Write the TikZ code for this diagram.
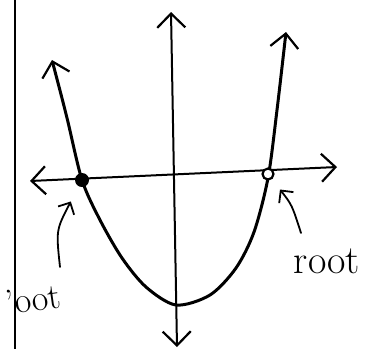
\documentclass[tikz,border=0pt]{standalone}
\usepackage{tikz}
\usetikzlibrary{arrows.meta, positioning}

\begin{document}
\begin{tikzpicture}[x=1pt, y=-1pt,
    barb/.style={{Straight Barb[length=14pt,width=28pt,line width=2.2pt]}-{Straight Barb[length=14pt,width=28pt,line width=2.2pt]}},
    axis/.style={line width=2pt, barb, line cap=round},
    curve/.style={line width=3pt, barb, line cap=round},
    pointer/.style={line width=1.8pt, -{Straight Barb[length=9pt,width=18pt,line width=1.8pt]}, line cap=round},
    lbl/.style={font=\fontsize{40}{40}\selectfont, inner sep=0pt}]
  \useasboundingbox (0,0) rectangle (366,349);
  % edge of the page
  \draw[line width=1.4pt] (15,0) -- (15,349);
  % axes
  \coordinate (xl) at (30,181);
  \coordinate (xr) at (337,167);
  \coordinate (yt) at (171,12);
  \coordinate (yb) at (177,347);
  \draw[axis] (xl) -- (xr);
  \draw[axis] (yb) -- (yt);
  % parabola, drawn by hand
  \draw[curve] plot[smooth] coordinates {(52,60) (67,118) (82,180) (100,220)
    (122,258) (146,287) (176,305) (210,295) (236,268) (254,232) (268,178)
    (277,110) (286,32)};
  % the two roots
  \node[circle, fill, inner sep=0pt, minimum size=14pt] (rootL) at (82,180) {};
  \node[circle, draw, line width=2.2pt, inner sep=0pt, minimum size=11pt, fill=white] (rootR) at (268,174) {};
  % labels and pointers
  \node[lbl] (lblR) at (327,261) {root};
  \node[lbl, font=\fontsize{36}{36}\selectfont, rotate=8] (lblL) at (33,299) {'oot};
  \coordinate (tailL) at (60,267);
  \coordinate (tailR) at (301,233);
  \draw[pointer, shorten >=17pt] (tailL) .. controls (56,230) .. (rootL);
  \draw[pointer, shorten >=13pt] (tailR) .. controls (292,205) .. (rootR);
\end{tikzpicture}
\end{document}
